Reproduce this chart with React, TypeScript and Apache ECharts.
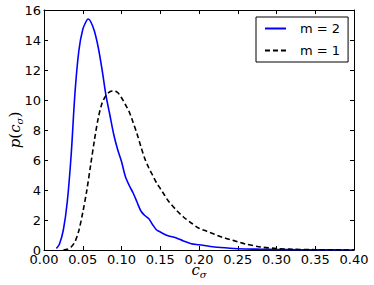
import React, { useEffect, useRef } from "react";
import * as echarts from "echarts";

const m2X = [0.016, 0.02, 0.025, 0.03, 0.035, 0.04, 0.045, 0.05, 0.055, 0.057, 0.06, 0.065, 0.07, 0.075, 0.08, 0.085, 0.09, 0.095, 0.1, 0.105, 0.11, 0.115, 0.12, 0.125, 0.13, 0.135, 0.14, 0.145, 0.15, 0.16, 0.17, 0.18, 0.19, 0.2, 0.22, 0.24, 0.26, 0.28, 0.3, 0.33, 0.36, 0.4];
const m2Y = [0.1, 0.4, 1.35, 3.2, 6.3, 10.5, 13.3, 14.7, 15.3, 15.4, 15.25, 14.6, 13.5, 12.0, 10.3, 9.0, 7.7, 6.7, 5.9, 4.9, 4.3, 3.8, 3.2, 2.6, 2.3, 2.1, 1.7, 1.35, 1.2, 0.95, 0.82, 0.6, 0.42, 0.35, 0.2, 0.12, 0.07, 0.05, 0.03, 0.02, 0.01, 0.0];

const m1X = [0.025, 0.03, 0.035, 0.04, 0.045, 0.05, 0.055, 0.06, 0.065, 0.07, 0.075, 0.08, 0.085, 0.09, 0.095, 0.1, 0.105, 0.11, 0.115, 0.12, 0.125, 0.13, 0.135, 0.14, 0.145, 0.15, 0.155, 0.16, 0.17, 0.18, 0.19, 0.2, 0.21, 0.22, 0.23, 0.24, 0.25, 0.26, 0.28, 0.3, 0.32, 0.35, 0.4];
const m1Y = [0.0, 0.05, 0.2, 0.55, 1.3, 2.5, 3.9, 5.6, 7.3, 8.8, 9.8, 10.3, 10.55, 10.6, 10.5, 10.15, 9.7, 9.2, 8.5, 7.75, 6.9, 6.1, 5.5, 5.0, 4.5, 4.1, 3.7, 3.3, 2.7, 2.2, 1.8, 1.45, 1.25, 1.05, 0.85, 0.7, 0.55, 0.4, 0.2, 0.1, 0.05, 0.02, 0.0];

const seriesNames = ["m = 2", "m = 1"];

const FONT = "DejaVu Sans";

export default function App() {
  const ref = useRef<HTMLDivElement>(null);
  useEffect(() => {
    if (!ref.current) return;
    const chart = echarts.init(ref.current, null, { renderer: "svg" });
    const xCommon = {
      type: "value" as const,
      min: 0,
      max: 0.4,
      interval: 0.05,
      splitLine: { show: false },
      axisLine: { show: true, onZero: false, lineStyle: { color: "#000", width: 1 } },
      axisTick: { show: true, inside: true, length: 4, lineStyle: { color: "#000", width: 1 } },
    };
    const yCommon = {
      type: "value" as const,
      min: 0,
      max: 16,
      interval: 2,
      splitLine: { show: false },
      axisLine: { show: true, onZero: false, lineStyle: { color: "#000", width: 1 } },
      axisTick: { show: true, inside: true, length: 4, lineStyle: { color: "#000", width: 1 } },
    };
    const nameRich = {
      a: { fontFamily: "DejaVu Serif", fontStyle: "italic", fontSize: 15, lineHeight: 18, color: "#000", verticalAlign: "middle" },
      p: { fontFamily: "DejaVu Serif", fontSize: 15, lineHeight: 18, color: "#000", verticalAlign: "middle" },
      b: { fontFamily: "DejaVu Serif", fontStyle: "italic", fontSize: 10, lineHeight: 10, color: "#000", verticalAlign: "bottom" },
    };
    chart.setOption({
      animation: false,
      backgroundColor: "#fff",
      grid: { left: 44, right: 20, top: 10, bottom: 35, outerBoundsMode: "none", containLabel: false },
      legend: {
        orient: "vertical",
        left: 256,
        top: 17,
        data: seriesNames,
        itemWidth: 21,
        itemHeight: 12,
        itemGap: 9,
        padding: [5, 8, 5, 8],
        borderColor: "#000",
        borderWidth: 1,
        borderRadius: 0,
        itemStyle: { opacity: 0 },
        textStyle: { fontFamily: FONT, fontSize: 13, color: "#000", padding: [0, 0, 0, 9] },
      },
      xAxis: [
        {
          ...xCommon,
          position: "bottom",
          axisLabel: {
            fontFamily: FONT,
            fontSize: 13,
            color: "#000",
            margin: 3,
            formatter: (v: number) => v.toFixed(2),
          },
          name: "{a|c}{b|σ}",
          nameLocation: "middle",
          nameGap: 11,
          nameMoveOverlap: false,
          nameTextStyle: { rich: nameRich },
        },
        { ...xCommon, position: "top", axisLabel: { show: false } },
      ],
      yAxis: [
        {
          ...yCommon,
          position: "left",
          axisLabel: { fontFamily: FONT, fontSize: 13, color: "#000", margin: 3 },
          name: "{a|p}{p|(}{a|c}{b|σ}{p|)}",
          nameLocation: "middle",
          nameGap: 20,
          nameMoveOverlap: false,
          nameTextStyle: { rich: nameRich },
        },
        { ...yCommon, position: "right", axisLabel: { show: false } },
      ],
      series: [
        {
          name: seriesNames[0],
          type: "line",
          xAxisIndex: 0,
          yAxisIndex: 0,
          data: m2X.map((x, i) => [x, m2Y[i]]),
          smooth: 0.3,
          symbol: "none",
          showSymbol: false,
          lineStyle: { color: "#0000ff", width: 1.6 },
          itemStyle: { color: "#0000ff" },
        },
        {
          name: seriesNames[1],
          type: "line",
          xAxisIndex: 0,
          yAxisIndex: 0,
          data: m1X.map((x, i) => [x, m1Y[i]]),
          smooth: 0.3,
          symbol: "none",
          showSymbol: false,
          lineStyle: { color: "#000", width: 1.6, type: [5, 3] },
          itemStyle: { color: "#000" },
        },
      ],
    });
    return () => chart.dispose();
  }, []);
  return (
    <div
      ref={ref}
      style={{ position: "fixed", left: 0, top: 0, width: 374, height: 285, background: "#fff" }}
    />
  );
}
